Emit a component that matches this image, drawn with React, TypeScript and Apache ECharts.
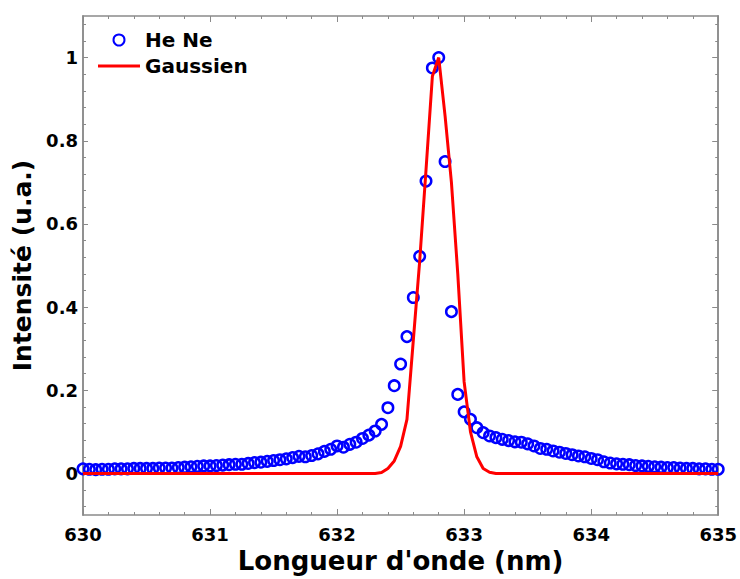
import React, { useEffect, useRef } from "react";
import * as echarts from "echarts";

// Wavelength sampling (nm)
const X_START = 630;
const X_STEP = 0.05;

// Measured He-Ne spectrum (normalised intensity), one value per wavelength sample
const heNe: number[] = [
  0.011, 0.010, 0.009, 0.010, 0.010, 0.011, 0.011, 0.011, 0.012, 0.012,
  0.012, 0.012, 0.013, 0.013, 0.013, 0.014, 0.015, 0.016, 0.017, 0.018,
  0.018, 0.019, 0.020, 0.021, 0.022, 0.022, 0.024, 0.026, 0.027, 0.029,
  0.031, 0.033, 0.035, 0.038, 0.041, 0.040, 0.043, 0.047, 0.053, 0.058,
  0.066, 0.063, 0.070, 0.075, 0.084, 0.092, 0.102, 0.118, 0.158, 0.211,
  0.263, 0.329, 0.423, 0.522, 0.703, 0.975, 1.000, 0.750, 0.389, 0.190,
  0.148, 0.130, 0.110, 0.098, 0.090, 0.086, 0.082, 0.079, 0.076, 0.075,
  0.071, 0.066, 0.060, 0.058, 0.054, 0.051, 0.048, 0.045, 0.042, 0.040,
  0.036, 0.033, 0.028, 0.025, 0.023, 0.022, 0.021, 0.019, 0.018, 0.017,
  0.016, 0.015, 0.014, 0.014, 0.013, 0.012, 0.012, 0.011, 0.011, 0.010,
  0.010,
];

// Gaussian fit, same wavelength samples
const gaussian: number[] = [
  0, 0, 0, 0, 0, 0, 0, 0, 0, 0,
  0, 0, 0, 0, 0, 0, 0, 0, 0, 0,
  0, 0, 0, 0, 0, 0, 0, 0, 0, 0,
  0, 0, 0, 0, 0, 0, 0, 0, 0, 0,
  0, 0, 0, 0, 0, 0, 0, 0.002, 0.012, 0.03,
  0.065, 0.13, 0.32, 0.51, 0.73, 0.955, 1.0, 0.86, 0.7, 0.48,
  0.22, 0.1, 0.04, 0.012, 0.003, 0, 0, 0, 0, 0,
  0, 0, 0, 0, 0, 0, 0, 0, 0, 0,
  0, 0, 0, 0, 0, 0, 0, 0, 0, 0,
  0, 0, 0, 0, 0, 0, 0, 0, 0, 0,
  0,
];

const yTickLabels: number[] = [0, 0.2, 0.4, 0.6, 0.8, 1];
const yMinorTicks: number[] = [
  -0.08, -0.04, 0, 0.04, 0.08, 0.12, 0.16, 0.2, 0.24, 0.28, 0.32, 0.36, 0.4,
  0.44, 0.48, 0.52, 0.56, 0.6, 0.64, 0.68, 0.72, 0.76, 0.8, 0.84, 0.88, 0.92,
  0.96, 1, 1.04, 1.08,
];

const AXIS_GRAY = "#8a8a8a";
const FONT = "'DejaVu Sans', sans-serif";

export default function App() {
  const ref = useRef<HTMLDivElement>(null);

  useEffect(() => {
    if (!ref.current) return;
    const chart = echarts.init(ref.current, null, { renderer: "svg" });
    const wl = heNe.map((_, i) => +(X_START + i * X_STEP).toFixed(2));

    const axisLine = {
      show: true,
      onZero: false,
      lineStyle: { color: AXIS_GRAY, width: 1.5 },
    };
    const tickLine = { color: AXIS_GRAY, width: 1 };

    const xBase: any = {
      type: "value",
      min: 630,
      max: 635,
      interval: 1,
      splitLine: { show: false },
      axisLine,
      axisTick: { show: true, inside: true, length: 6, lineStyle: tickLine },
      minorTick: { show: true, splitNumber: 5, length: 3, lineStyle: tickLine },
    };
    const yBase: any = {
      type: "value",
      min: -0.1,
      max: 1.1,
      splitLine: { show: false },
      axisLine,
    };

    const option: any = {
      animation: false,
      backgroundColor: "#ffffff",
      grid: { left: 83, right: 21, top: 16, bottom: 61, containLabel: false },
      legend: {
        orient: "vertical",
        left: 98,
        top: 30,
        padding: 0,
        itemWidth: 42,
        itemHeight: 11,
        itemGap: 6,
        data: [
          { name: "He Ne" },
          { name: "Gaussien", icon: "path://M0,0L42,0L42,3L0,3Z" },
        ],
        textStyle: {
          fontSize: 20,
          fontWeight: "bold",
          color: "#000",
          fontFamily: FONT,
        },
      },
      xAxis: [
        {
          ...xBase,
          position: "bottom",
          name: "Longueur d'onde (nm)",
          nameLocation: "middle",
          nameGap: 33,
          nameTextStyle: {
            fontSize: 26,
            fontWeight: "bold",
            color: "#000",
            fontFamily: FONT,
          },
          axisLabel: {
            show: true,
            fontSize: 18,
            fontWeight: "bold",
            color: "#000",
            fontFamily: FONT,
            margin: 10,
          },
        },
        {
          ...xBase,
          position: "top",
          axisLabel: { show: false },
        },
      ],
      yAxis: [
        {
          ...yBase,
          position: "left",
          name: "Intensité (u.a.)",
          nameLocation: "middle",
          nameGap: 47,
          nameTextStyle: {
            fontSize: 25,
            fontWeight: "bold",
            color: "#000",
            fontFamily: FONT,
          },
          axisTick: {
            show: true,
            inside: true,
            length: 5,
            customValues: yTickLabels,
            lineStyle: tickLine,
          },
          axisLabel: {
            show: true,
            customValues: yTickLabels,
            formatter: (v: number) => String(v),
            fontSize: 18,
            fontWeight: "bold",
            color: "#000",
            fontFamily: FONT,
            margin: 5,
          },
        },
        {
          ...yBase,
          position: "left",
          axisTick: {
            show: true,
            inside: true,
            length: 3,
            customValues: yMinorTicks,
            lineStyle: tickLine,
          },
          axisLabel: { show: false },
        },
        {
          ...yBase,
          position: "right",
          axisTick: {
            show: true,
            inside: true,
            length: 6,
            customValues: yTickLabels,
            lineStyle: tickLine,
          },
          axisLabel: { show: false },
        },
        {
          ...yBase,
          position: "right",
          axisTick: {
            show: true,
            inside: true,
            length: 3,
            customValues: yMinorTicks,
            lineStyle: tickLine,
          },
          axisLabel: { show: false },
        },
      ],
      series: [
        {
          name: "He Ne",
          type: "scatter",
          xAxisIndex: 0,
          yAxisIndex: 0,
          data: wl.map((x, i) => [x, heNe[i]]),
          symbol: "circle",
          symbolSize: 10.5,
          itemStyle: {
            color: "rgba(255,255,255,0)",
            borderColor: "#0000ff",
            borderWidth: 2.5,
            opacity: 1,
          },
          z: 2,
        },
        {
          name: "Gaussien",
          type: "line",
          xAxisIndex: 0,
          yAxisIndex: 0,
          data: wl.map((x, i) => [x, gaussian[i]]),
          symbol: "none",
          showSymbol: false,
          lineStyle: { color: "#ff0000", width: 3 },
          itemStyle: { color: "#ff0000" },
          z: 3,
        },
      ],
    };

    chart.setOption(option);
    return () => chart.dispose();
  }, []);

  return (
    <div
      ref={ref}
      style={{
        position: "absolute",
        left: 0,
        top: 0,
        width: 740,
        height: 579,
        background: "#fff",
      }}
    />
  );
}
